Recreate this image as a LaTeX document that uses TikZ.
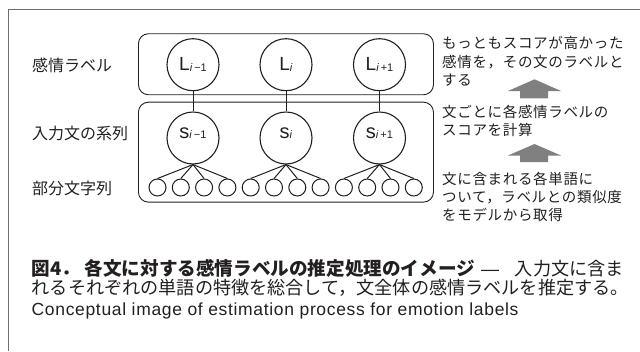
\documentclass[tikz,border=0pt]{standalone}
\usepackage{fontspec}
\setmainfont{Liberation Sans}
\newfontfamily\jp{Noto Sans CJK JP}
\newfontfamily\jpnote[LetterSpace=4.6]{Noto Sans CJK JP}
\newfontfamily\engcap[LetterSpace=3.8]{Liberation Sans}
\definecolor{ink}{HTML}{231F20}
\definecolor{arrowgray}{HTML}{808080}
\definecolor{framegray}{HTML}{6D6E71}
\newcommand{\BigLab}[2]{{\fontsize{19}{19}\selectfont #1\raisebox{-1.5pt}{\fontsize{11}{11}\selectfont\textit{i}#2}}}
\newcommand{\SmLab}[2]{{\fontsize{20}{20}\selectfont #1\fontsize{11}{11}\selectfont\textit{i}#2}}
\begin{document}
\begin{tikzpicture}[x=1pt,y=-1pt,
  every node/.style={text=ink},
  frameline/.style={draw=framegray,line width=1.2pt},
  grp/.style={draw=ink,rounded corners=10pt,line width=0.9pt},
  Lnode/.style={circle,draw=ink,line width=1.1pt,minimum size=52pt,inner sep=0pt,text height=13pt,text depth=2.4pt},
  Snode/.style={circle,draw=ink,line width=1.1pt,minimum size=52pt,inner sep=0pt,text height=8pt,text depth=8pt},
  word/.style={circle,draw=ink,line width=1pt,minimum size=17pt,inner sep=0pt},
  link/.style={draw=ink,line width=1pt},
  lab/.style={font=\jp\fontsize{16}{18}\selectfont,anchor=base west,inner sep=0pt},
  note/.style={font=\jpnote\fontsize{14.5}{18}\selectfont,anchor=base west,inner sep=0pt},
  capb/.style={font=\jp\bfseries\fontsize{18.6}{20}\selectfont,inner sep=0pt},
  capr/.style={font=\jp\fontsize{18.15}{20}\selectfont,inner sep=0pt},
  cape/.style={font=\engcap\fontsize{17.5}{20}\selectfont,anchor=base west,inner sep=0pt},
  bigarrow/.style={fill=arrowgray}]
\useasboundingbox (0,0) rectangle (640,351);
% frame
\coordinate (fc) at (8.3,9.3);
\coordinate (fr) at (640,9.3);
\coordinate (fb) at (8.3,351);
\draw[frameline] (fr) -- (fc) -- (fb);
% group boxes
\node[grp,minimum width=295pt,minimum height=61pt,anchor=north west,inner sep=0pt] (top) at (138,33.3) {};
\node[grp,minimum width=295pt,minimum height=100pt,anchor=north west,inner sep=0pt] (bot) at (138,101.7) {};
% label nodes
\node[Lnode] (L1) at (193,64.7) {\BigLab{L}{\,−1}};
\node[Lnode] (L2) at (286,64.7) {\BigLab{L}{}};
\node[Lnode] (L3) at (379.5,64.7) {\BigLab{L}{\,+1}};
\node[Snode] (S1) at (193,138) {\SmLab{s}{\,−1}};
\node[Snode] (S2) at (286,138) {\SmLab{s}{}};
\node[Snode] (S3) at (379.5,138) {\SmLab{s}{\,+1}};
\foreach \i in {1,2,3} \draw[link] (L\i) -- (S\i);
% word nodes
\foreach \k in {0,...,11} {
  \node[word] (w\k) at ({157.5+23.3*\k},187.5) {};
}
\foreach \k in {0,...,3} \draw[link] (S1.south) -- (w\k.north);
\foreach \k in {4,...,7} \draw[link] (S2.south) -- (w\k.north);
\foreach \k in {8,...,11} \draw[link] (S3.south) -- (w\k.north);
% left labels
\node[lab] (la1) at (32,71) {感情ラベル};
\node[lab] (la2) at (32,139) {入力文の系列};
\node[lab] (la3) at (32,194.5) {部分文字列};
% right notes
\node[note] (n1a) at (442,48.8) {もっともスコアが高かった};
\node[note] (n1b) at (442,67.2) {感情を，その文のラベルと};
\node[note] (n1c) at (442,85.5) {する};
\node[note] (n2a) at (442,117.2) {文ごとに各感情ラベルの};
\node[note] (n2b) at (442,135.5) {スコアを計算};
\node[note] (n3a) at (442,184) {文に含まれる各単語に};
\node[note] (n3b) at (442,202) {ついて，ラベルとの類似度};
\node[note] (n3c) at (442,220) {をモデルから取得};
% arrows
\fill[bigarrow] (534.5,79.3) -- (561,91) -- (548,91) -- (548,98.3) -- (520,98.3) -- (520,91) -- (508,91) -- cycle;
\fill[bigarrow] (534.5,144) -- (561,155.5) -- (548,155.5) -- (548,162) -- (520,162) -- (520,155.5) -- (508,155.5) -- cycle;
% caption
\node[capb,anchor=base west] (c1) at (31.5,275) {図4．};
\node[capb,anchor=base west] (c2) at (84.5,275) {各文に対する感情ラベルの推定処理のイメージ};
\node[inner sep=0pt,anchor=base,font=\fontsize{18}{20}\selectfont] (c3) at (490,275) {—};
\node[capr,anchor=base east] (c4) at (624,275) {入力文に含ま};
\node[capr,anchor=base west] (c5) at (31.5,294) {れるそれぞれの単語の特徴を総合して，文全体の感情ラベルを推定する。};
\node[cape] (c6) at (31.5,315) {Conceptual image of estimation process for emotion labels};
\end{tikzpicture}
\end{document}
